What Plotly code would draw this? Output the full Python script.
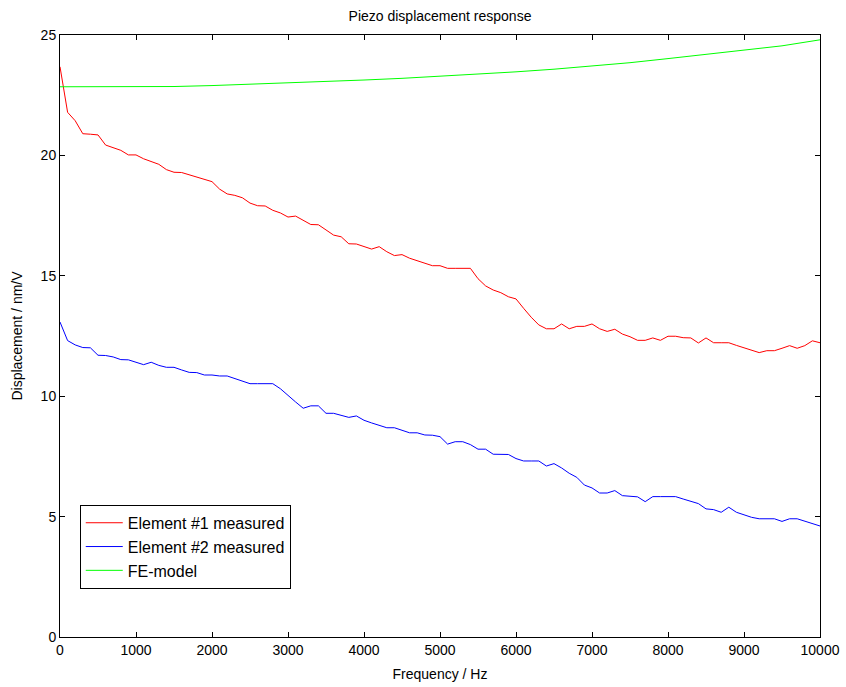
import plotly.graph_objects as go

freq = [i * 100 for i in range(101)]

element1 = [23.68, 21.79, 21.44, 20.90, 20.88, 20.85, 20.43, 20.32, 20.21, 20.02,
            20.02, 19.86, 19.73, 19.63, 19.41, 19.30, 19.29, 19.19, 19.12, 19.02,
            18.91, 18.60, 18.40, 18.34, 18.24, 18.02, 17.91, 17.90, 17.72, 17.61,
            17.44, 17.48, 17.30, 17.13, 17.12, 16.90, 16.69, 16.62, 16.33, 16.32,
            16.21, 16.11, 16.21, 16.00, 15.84, 15.88, 15.73, 15.63, 15.53, 15.42,
            15.42, 15.31, 15.31, 15.31, 15.31, 14.88, 14.58, 14.41, 14.30, 14.13,
            14.04, 13.65, 13.28, 12.96, 12.80, 12.80, 13.00, 12.80, 12.90, 12.90,
            13.00, 12.80, 12.69, 12.78, 12.58, 12.47, 12.32, 12.32, 12.42, 12.32,
            12.49, 12.49, 12.43, 12.42, 12.21, 12.42, 12.22, 12.22, 12.22, 12.11,
            12.00, 11.91, 11.81, 11.89, 11.89, 11.99, 12.10, 11.99, 12.10, 12.30,
            12.22]

element2 = [13.08, 12.31, 12.13, 12.02, 12.01, 11.70, 11.69, 11.63, 11.52, 11.51,
            11.41, 11.31, 11.41, 11.28, 11.20, 11.20, 11.09, 10.99, 10.98, 10.88,
            10.88, 10.84, 10.84, 10.73, 10.63, 10.52, 10.52, 10.52, 10.52, 10.31,
            10.02, 9.76, 9.50, 9.60, 9.60, 9.29, 9.29, 9.19, 9.12, 9.18,
            9.00, 8.89, 8.79, 8.69, 8.69, 8.57, 8.48, 8.48, 8.39, 8.38,
            8.32, 8.01, 8.11, 8.11, 7.99, 7.80, 7.80, 7.59, 7.59, 7.58,
            7.41, 7.31, 7.31, 7.31, 7.10, 7.20, 7.02, 6.80, 6.63, 6.31,
            6.19, 5.98, 5.98, 6.08, 5.87, 5.83, 5.82, 5.62, 5.83, 5.83,
            5.83, 5.83, 5.73, 5.64, 5.54, 5.32, 5.29, 5.18, 5.39, 5.18,
            5.07, 4.97, 4.91, 4.91, 4.91, 4.80, 4.91, 4.91, 4.80, 4.71,
            4.61]

fe_freq = [0, 500, 1000, 1500, 2000, 2500, 3000, 3500, 4000, 4500, 5000,
           5500, 6000, 6500, 7000, 7500, 8000, 8500, 9000, 9500, 10000]
fe_model = [22.85, 22.85, 22.85, 22.86, 22.90, 22.95, 23.00, 23.07, 23.13, 23.20, 23.28,
            23.37, 23.47, 23.58, 23.70, 23.85, 24.02, 24.20, 24.35, 24.55, 24.80]

x_ticks = [0, 1000, 2000, 3000, 4000, 5000, 6000, 7000, 8000, 9000, 10000]
y_ticks = [0, 5, 10, 15, 20, 25]

font_family = "Liberation Sans, Arial, sans-serif"

fig = go.Figure()
fig.add_trace(go.Scatter(x=freq, y=element1, mode="lines", name="Element #1 measured",
                         line=dict(color="#ff0000", width=1)))
fig.add_trace(go.Scatter(x=freq, y=element2, mode="lines", name="Element #2 measured",
                         line=dict(color="#0000ff", width=1)))
fig.add_trace(go.Scatter(x=fe_freq, y=fe_model, mode="lines", name="FE-model",
                         line=dict(color="#00ff00", width=1)))

axis_common = dict(showline=True, linecolor="black", linewidth=1, mirror="ticks",
                   ticks="inside", ticklen=5, tickcolor="black", tickwidth=1,
                   showgrid=False, zeroline=False, automargin=False,
                   tickfont=dict(family=font_family, size=14, color="black"))

fig.update_layout(
    width=846, height=687,
    margin=dict(l=60, r=26, t=35, b=50),
    paper_bgcolor="white", plot_bgcolor="white",
    font=dict(family=font_family, size=14, color="black"),
    title=dict(text="Piezo displacement response", x=0.5, xref="paper", xanchor="center",
               y=1 - 16 / 687, yanchor="middle",
               font=dict(family=font_family, size=14, color="black")),
    xaxis=dict(range=[0, 10000], tickvals=x_ticks, ticktext=[str(v) for v in x_ticks],
               title=dict(text="Frequency / Hz", standoff=12,
                          font=dict(family=font_family, size=14)),
               **axis_common),
    yaxis=dict(range=[0, 25], tickvals=y_ticks, ticktext=[str(v) for v in y_ticks],
               title=dict(text="Displacement / nm/V", standoff=14,
                          font=dict(family=font_family, size=14)),
               **axis_common),
    legend=dict(x=0.026, y=0.08, xanchor="left", yanchor="bottom",
                bgcolor="white", bordercolor="black", borderwidth=1,
                font=dict(family=font_family, size=16, color="black"),
                tracegroupgap=0, itemwidth=37),
    showlegend=True,
)

fig.write_html("out.html")
